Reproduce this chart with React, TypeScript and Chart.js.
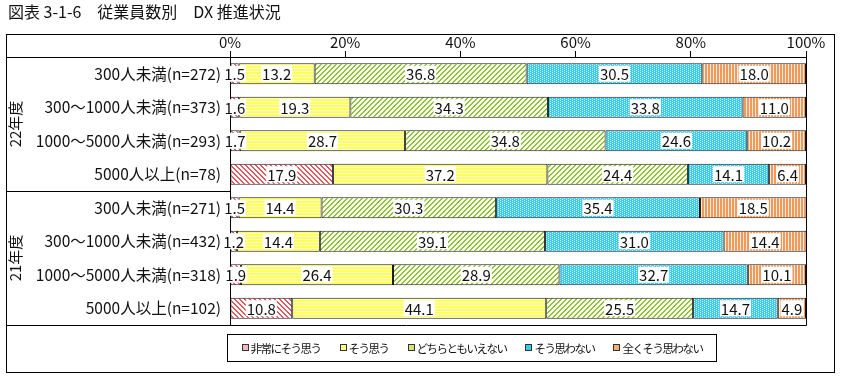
import React, { useEffect, useRef } from "react";
import { Chart, registerables } from "chart.js";

Chart.register(...registerables);

const FONT = "'Noto Sans CJK JP', 'Noto Sans', sans-serif";

const title = "図表 3-1-6　従業員数別　DX 推進状況";
const categories = [
  "300人未満(n=272)",
  "300～1000人未満(n=373)",
  "1000～5000人未満(n=293)",
  "5000人以上(n=78)",
  "300人未満(n=271)",
  "300～1000人未満(n=432)",
  "1000～5000人未満(n=318)",
  "5000人以上(n=102)",
];
const groupLabels = ["22年度", "21年度"];
const groupRanges = [
  [0, 3],
  [4, 7],
];
const seriesNames = ["非常にそう思う", "そう思う", "どちらともいえない", "そう思わない", "全くそう思わない"];
const strongAgree = [1.5, 1.6, 1.7, 17.9, 1.5, 1.2, 1.9, 10.8];
const agree = [13.2, 19.3, 28.7, 37.2, 14.4, 14.4, 26.4, 44.1];
const neutral = [36.8, 34.3, 34.8, 24.4, 30.3, 39.1, 28.9, 25.5];
const disagree = [30.5, 33.8, 24.6, 14.1, 35.4, 31.0, 32.7, 14.7];
const strongDisagree = [18.0, 11.0, 10.2, 6.4, 18.5, 14.4, 10.1, 4.9];
const xTickStep = 20;
const swatchColors = ["#f2b8be", "#ffff88", "#d4e27a", "#3cc8f0", "#f4b07a"];

function tile(w: number, h: number, draw: (c: CanvasRenderingContext2D) => void) {
  const cv = document.createElement("canvas");
  cv.width = w;
  cv.height = h;
  const c = cv.getContext("2d")!;
  draw(c);
  return c.createPattern(cv, "repeat")!;
}

function makePatterns() {
  const red = tile(5, 5, (c) => {
    c.fillStyle = "#ffffff";
    c.fillRect(0, 0, 5, 5);
    c.fillStyle = "#e2585c";
    for (let i = 0; i < 5; i++) {
      c.fillRect(i, i, 1, 1);
      c.fillRect((i + 1) % 5, i, 1, 1);
    }
  });
  const yellow = tile(1, 3, (c) => {
    c.fillStyle = "#ffff5e";
    c.fillRect(0, 0, 1, 2);
    c.fillStyle = "#ffffc8";
    c.fillRect(0, 2, 1, 1);
  });
  const green = tile(5, 5, (c) => {
    c.fillStyle = "#fbfdf2";
    c.fillRect(0, 0, 5, 5);
    c.fillStyle = "#92c43a";
    for (let i = 0; i < 5; i++) {
      c.fillRect(4 - i, i, 1, 1);
      c.fillRect((5 - i) % 5, i, 1, 1);
    }
  });
  const cyan = tile(4, 2, (c) => {
    c.fillStyle = "#36ccf2";
    c.fillRect(0, 0, 4, 2);
    c.fillStyle = "#d8f5ff";
    c.fillRect(0, 0, 1, 1);
    c.fillRect(2, 1, 1, 1);
  });
  const orange = tile(3, 1, (c) => {
    c.fillStyle = "#f0995a";
    c.fillRect(0, 0, 2, 1);
    c.fillStyle = "#fdeada";
    c.fillRect(2, 0, 1, 1);
  });
  return [red, yellow, green, cyan, orange];
}

const valueLabels = {
  id: "valueLabels",
  afterDatasetsDraw(chart: any) {
    const ctx = chart.ctx as CanvasRenderingContext2D;
    ctx.save();
    ctx.font = `15px ${FONT}`;
    ctx.textAlign = "center";
    ctx.textBaseline = "middle";
    chart.data.datasets.forEach((ds: any, i: number) => {
      const meta = chart.getDatasetMeta(i);
      meta.data.forEach((el: any, j: number) => {
        const v = ds.data[j] as number;
        const p = el.getProps(["x", "y", "base"], true);
        const cx = (p.x + p.base) / 2;
        const t = v.toFixed(1);
        const w = ctx.measureText(t).width;
        ctx.fillStyle = "#ffffff";
        ctx.fillRect(cx - w / 2 - 1, p.y - 8, w + 2, 16);
        ctx.fillStyle = "#111";
        ctx.fillText(t, cx, p.y + 1);
      });
    });
    ctx.restore();
  },
};

const frame = {
  id: "frame",
  afterDraw(chart: any) {
    const ctx = chart.ctx as CanvasRenderingContext2D;
    const { left, right, top, bottom } = chart.chartArea;
    const ys = chart.scales.y;
    const L = 6.5;
    ctx.save();
    ctx.strokeStyle = "#000";
    ctx.lineWidth = 1;
    // outer frame
    ctx.strokeRect(L, 34.5, 828, 338);
    const t = Math.round(top) + 0.5;
    const b = Math.round(bottom) + 0.5;
    const r = Math.round(right) + 0.5;
    ctx.beginPath();
    ctx.moveTo(L, t);
    ctx.lineTo(r, t);
    ctx.moveTo(r, t);
    ctx.lineTo(r, b);
    ctx.moveTo(L, b);
    ctx.lineTo(r, b);
    const sep = Math.round((ys.getPixelForValue(3) + ys.getPixelForValue(4)) / 2) + 0.5;
    ctx.moveTo(L, sep);
    ctx.lineTo(left, sep);
    ctx.stroke();

    // group labels
    ctx.fillStyle = "#111";
    ctx.font = `15px ${FONT}`;
    ctx.textAlign = "center";
    ctx.textBaseline = "middle";
    groupLabels.forEach((g, i) => {
      const [a, z] = groupRanges[i];
      const yc = (ys.getPixelForValue(a) + ys.getPixelForValue(z)) / 2;
      ctx.save();
      ctx.translate(15, yc);
      ctx.rotate(-Math.PI / 2);
      ctx.fillText(g, 0, 0);
      ctx.restore();
    });

    // title
    ctx.textAlign = "left";
    ctx.font = `16px ${FONT}`;
    ctx.fillText(chart.options.plugins.frame.title, 8, 12);

    // legend
    ctx.strokeRect(227.5, 334.5, 489, 27);
    ctx.font = `11.5px ${FONT}`;
    (ctx as any).letterSpacing = "-1.5px";
    const box = 6;
    const gapBox = 3;
    const gapItem = 19;
    const ds = chart.data.datasets;
    const widths = ds.map((d: any) => ctx.measureText(d.label).width);
    const total = widths.reduce((s: number, w: number) => s + w + box + gapBox, 0) + gapItem * (ds.length - 1);
    let x = 472 - total / 2;
    const ly = 348;
    ds.forEach((d: any, i: number) => {
      const bx = Math.round(x) + 0.5;
      ctx.fillStyle = swatchColors[i];
      ctx.fillRect(bx, ly - 3.5, box, box);
      ctx.strokeStyle = "#333";
      ctx.strokeRect(bx, ly - 3.5, box, box);
      ctx.fillStyle = "#111";
      ctx.fillText(d.label, x + box + gapBox, ly + 1);
      x += box + gapBox + widths[i] + gapItem;
    });
    ctx.restore();
  },
};

export default function App() {
  const ref = useRef<HTMLCanvasElement>(null);
  useEffect(() => {
    const pats = makePatterns();
    const values = [strongAgree, agree, neutral, disagree, strongDisagree];
    const chart = new Chart(ref.current!, {
      type: "bar",
      data: {
        labels: categories,
        datasets: seriesNames.map((name, i) => ({
          label: name,
          data: values[i],
          backgroundColor: pats[i] as any,
          borderColor: "#1a1a1a",
          borderWidth: 1,
          borderSkipped: false,
          categoryPercentage: 1,
          barPercentage: 0.63,
        })),
      },
      options: {
        indexAxis: "y",
        responsive: false,
        animation: false,
        events: [],
        layout: { padding: { top: 34, left: 0, right: 37, bottom: 58 } },
        scales: {
          x: {
            position: "top",
            stacked: true,
            min: 0,
            max: 100,
            ticks: {
              stepSize: xTickStep,
              padding: 0,
              color: "#111",
              font: { family: FONT, size: 15 },
              callback: (v: any) => `${v}%`,
            },
            grid: { drawOnChartArea: false, drawTicks: true, tickLength: 6, color: "#000" },
            border: { display: true, color: "#000" },
            afterFit: (s: any) => {
              s.height = 23;
            },
          },
          y: {
            stacked: true,
            ticks: { color: "#111", padding: 9, font: { family: FONT, size: 15.5 } },
            grid: { display: false, drawTicks: false },
            border: { display: true, color: "#000" },
            afterFit: (s: any) => {
              s.width = 230;
            },
          },
        },
        plugins: {
          legend: { display: false },
          tooltip: { enabled: false },
          frame: { title },
        } as any,
      },
      plugins: [valueLabels, frame],
    });
    return () => chart.destroy();
  }, []);
  return (
    <div style={{ position: "absolute", left: 0, top: 0, width: 843, height: 383, background: "#fff" }}>
      <canvas ref={ref} width={843} height={383} style={{ display: "block" }} />
    </div>
  );
}
